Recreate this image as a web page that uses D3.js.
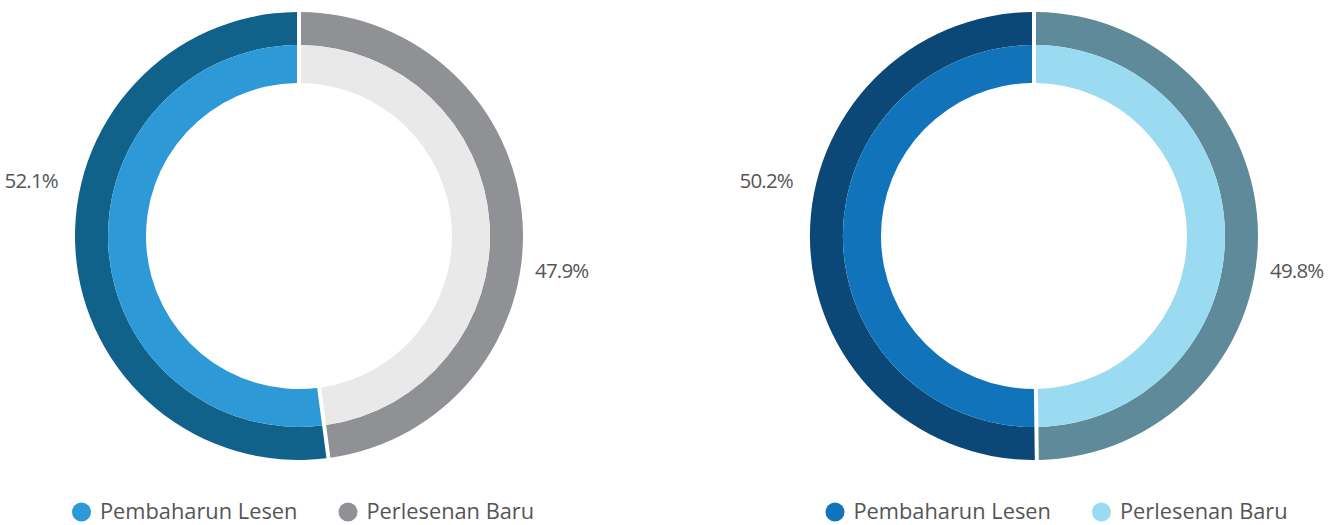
<!DOCTYPE html>
<html>
<head>
<meta charset="utf-8">
<script src="https://cdn.jsdelivr.net/npm/d3@7"></script>
<style>
  html, body { margin: 0; padding: 0; background: #fff; }
  svg text { font-family: "Open Sans", sans-serif; fill: #555555; }
</style>
</head>
<body>
<div id="chart"></div>
<script>
var WIDTH = 1341;
var HEIGHT = 525;

// data
var categories = ["Pembaharun Lesen", "Perlesenan Baru"];
var valuesLeft = [52.1, 47.9];
var valuesRight = [50.2, 49.8];

// colours: [outer band, inner band] per category, plus legend dots
var coloursLeft = [["#10628a", "#2d9ad7"], ["#909195", "#e8e9e8"]];
var coloursRight = [["#0b4877", "#1174bb"], ["#5f8a9a", "#9adbf2"]];
var legendLeft = ["#2d9ad7", "#909195"];
var legendRight = ["#1174bb", "#9adbf2"];

var svg = d3.select("#chart")
			.append("svg")
			.attr("width", WIDTH)
			.attr("height", HEIGHT);

var R_OUT = 224;
var R_MID = 191;
var R_IN = 153;
var GAP = 4;

// pie goes counter-clockwise from the top so the first category sits on the left
var pie = d3.pie()
			.sort(null)
			.startAngle(0)
			.endAngle(-2 * Math.PI);

var outerArc = d3.arc()
				 .innerRadius(R_MID)
				 .outerRadius(R_OUT)
				 .padAngle(GAP / R_OUT)
				 .padRadius(R_OUT);

var innerArc = d3.arc()
				 .innerRadius(R_IN)
				 .outerRadius(R_MID)
				 .padAngle(GAP / R_OUT)
				 .padRadius(R_OUT);

function drawDonut(cx, values, colours, dots, legendX) {
	var g = svg.append("g").attr("transform", "translate(" + cx + ",236)");
	var arcs = pie(values);

	g.selectAll("path.outer")
	 .data(arcs)
	 .enter()
	 .append("path")
	 .attr("class", "outer")
	 .attr("d", outerArc)
	 .attr("fill", function(d, i) { return colours[i][0]; });

	g.selectAll("path.inner")
	 .data(arcs)
	 .enter()
	 .append("path")
	 .attr("class", "inner")
	 .attr("d", innerArc)
	 .attr("fill", function(d, i) { return colours[i][1]; });

	// percentage labels, left one above the middle, right one below
	g.selectAll("text.pct")
	 .data(values)
	 .enter()
	 .append("text")
	 .attr("class", "pct")
	 .attr("x", function(d, i) { return i == 0 ? -241 : 236; })
	 .attr("y", function(d, i) { return i == 0 ? -48 : 42; })
	 .attr("text-anchor", function(d, i) { return i == 0 ? "end" : "start"; })
	 .attr("font-size", "20.5px")
	 .attr("letter-spacing", "-0.8px")
	 .text(function(d) { return d.toFixed(1) + "%"; });

	// legend
	var legend = svg.append("g").attr("transform", "translate(" + legendX + ",512)");
	var item = legend.selectAll("g")
					 .data(categories)
					 .enter()
					 .append("g")
					 .attr("transform", function(d, i) { return "translate(" + (i * 266.5) + ",0)"; });

	item.append("circle")
		.attr("r", 9.5)
		.attr("cx", 0)
		.attr("cy", 0)
		.attr("fill", function(d, i) { return dots[i]; });

	item.append("text")
		.attr("x", 18.5)
		.attr("y", 7)
		.attr("font-size", "21.8px")
		.text(function(d) { return d; });
}

drawDonut(299, valuesLeft, coloursLeft, legendLeft, 81.5);
drawDonut(1034, valuesRight, coloursRight, legendRight, 835);
</script>
</body>
</html>
